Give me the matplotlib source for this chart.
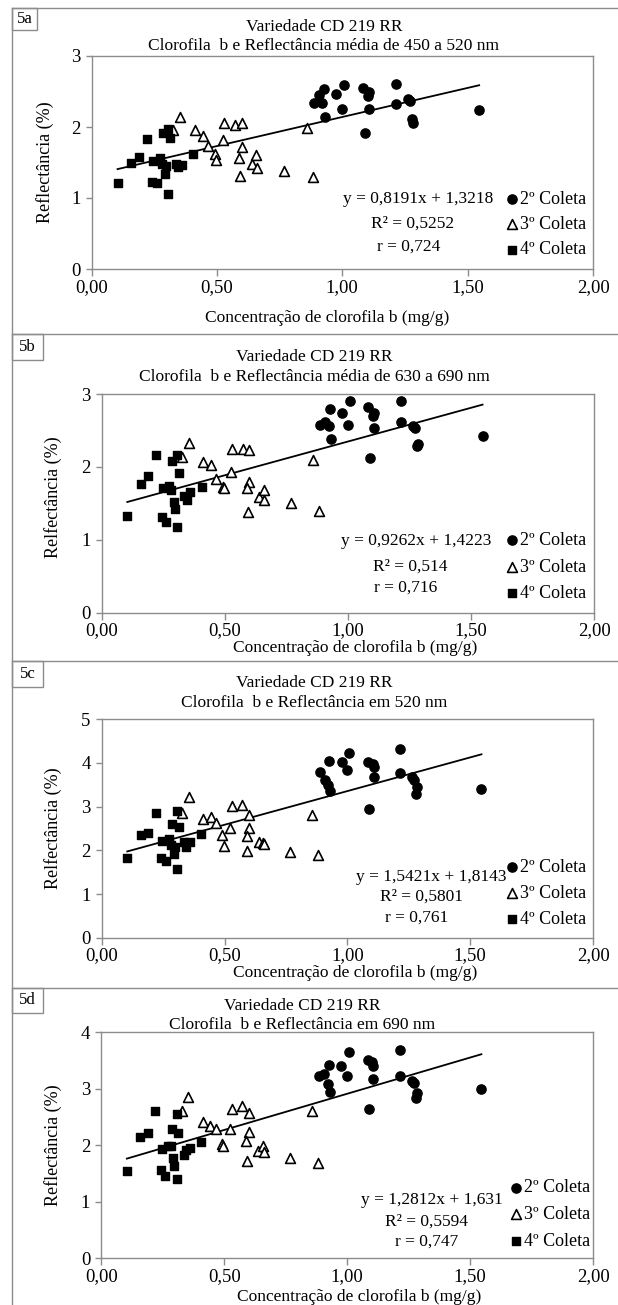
import numpy as np
import matplotlib
matplotlib.use("Agg")
import matplotlib.pyplot as plt
from matplotlib.lines import Line2D
from matplotlib.patches import Rectangle
from matplotlib.ticker import FuncFormatter

plt.rcParams['font.family'] = ['Liberation Serif', 'DejaVu Serif']

# ---------------- data ----------------
x_c2 = [0.887, 0.907, 0.921, 0.927, 0.930, 0.977, 0.999, 1.007, 1.083, 1.090,
        1.103, 1.107, 1.107, 1.216, 1.216, 1.263, 1.272, 1.279, 1.283, 1.546]
x_c3 = [0.327, 0.354, 0.413, 0.444, 0.466, 0.491, 0.496, 0.523, 0.530, 0.573,
        0.599, 0.599, 0.590, 0.593, 0.639, 0.657, 0.660, 0.768, 0.858, 0.882]
x_c4 = [0.104, 0.158, 0.189, 0.220, 0.243, 0.260, 0.247, 0.273, 0.282, 0.286,
        0.306, 0.313, 0.293, 0.306, 0.336, 0.345, 0.360, 0.406, 0.297]

y5a_c2 = [2.34, 2.45, 2.34, 2.53, 2.145, 2.46, 2.26, 2.59, 2.555, 1.91,
          2.43, 2.50, 2.25, 2.605, 2.33, 2.39, 2.36, 2.11, 2.05, 2.24]
y5a_c3 = [1.96, 2.14, 1.96, 1.88, 1.73, 1.62, 1.535, 1.82, 2.05, 2.03,
          2.055, 1.715, 1.56, 1.305, 1.48, 1.61, 1.42, 1.38, 1.98, 1.30]
y5a_c4 = [1.21, 1.50, 1.58, 1.83, 1.23, 1.21, 1.52, 1.56, 1.48, 1.92,
          1.97, 1.84, 1.34, 1.05, 1.48, 1.43, 1.47, 1.62, 1.45]

y5b_c2 = [2.57, 2.61, 2.56, 2.79, 2.38, 2.74, 2.57, 2.91, 2.82, 2.12,
          2.70, 2.74, 2.54, 2.91, 2.62, 2.56, 2.54, 2.29, 2.32, 2.42]
y5b_c3 = [2.14, 2.33, 2.07, 2.02, 1.84, 1.73, 1.71, 1.93, 2.24, 2.25,
          2.23, 1.79, 1.71, 1.385, 1.59, 1.68, 1.55, 1.51, 2.10, 1.39]
y5b_c4 = [1.33, 1.76, 1.87, 2.16, 1.31, 1.25, 1.71, 1.74, 1.68, 2.08,
          2.16, 1.91, 1.52, 1.18, 1.60, 1.54, 1.65, 1.72, 1.42]

y5c_c2 = [3.79, 3.62, 3.50, 4.05, 3.35, 4.03, 3.84, 4.22, 4.03, 2.95,
          3.98, 3.90, 3.69, 4.32, 3.78, 3.69, 3.60, 3.28, 3.44, 3.40]
y5c_c3 = [2.85, 3.21, 2.71, 2.77, 2.62, 2.35, 2.11, 2.52, 3.02, 3.04,
          2.81, 2.52, 2.33, 1.98, 2.18, 2.16, 2.15, 1.97, 2.82, 1.89]
y5c_c4 = [1.82, 2.34, 2.40, 2.85, 1.83, 1.76, 2.22, 2.26, 2.12, 2.60,
          2.90, 2.54, 1.92, 1.57, 2.18, 2.08, 2.18, 2.37, 2.08]

y5d_c2 = [3.22, 3.26, 3.08, 3.42, 2.94, 3.41, 3.23, 3.66, 3.51, 2.64,
          3.47, 3.41, 3.17, 3.69, 3.23, 3.14, 3.10, 2.84, 2.92, 2.99]
y5d_c3 = [2.60, 2.85, 2.42, 2.35, 2.29, 2.02, 1.99, 2.29, 2.65, 2.70,
          2.58, 2.23, 2.08, 1.72, 1.90, 1.99, 1.89, 1.78, 2.60, 1.68]
y5d_c4 = [1.55, 2.14, 2.22, 2.61, 1.56, 1.45, 1.94, 1.99, 1.98, 2.29,
          2.55, 2.21, 1.77, 1.40, 1.83, 1.92, 1.96, 2.05, 1.64]

panel_ids = ["5a", "5b", "5c", "5d"]
title1 = "Variedade CD 219 RR"
titles2 = ["Clorofila  b e Reflectância média de 450 a 520 nm",
           "Clorofila  b e Reflectância média de 630 a 690 nm",
           "Clorofila  b e Reflectância em 520 nm",
           "Clorofila  b e Reflectância em 690 nm"]
ylabels = ["Reflectância (%)", "Relfectância (%)", "Relfectância (%)", "Reflectância (%)"]
xlabel = "Concentração de clorofila b (mg/g)"
ymax = [3, 3, 5, 4]
slopes = [0.8191, 0.9262, 1.5421, 1.2812]
intercepts = [1.3218, 1.4223, 1.8143, 1.631]
eq_txt = ["y = 0,8191x + 1,3218", "y = 0,9262x + 1,4223",
          "y = 1,5421x + 1,8143", "y = 1,2812x + 1,631"]
r2_txt = ["R² = 0,5252", "R² = 0,514", "R² = 0,5801", "R² = 0,5594"]
r_txt = ["r = 0,724", "r = 0,716", "r = 0,761", "r = 0,747"]
legend_labels = ["2º Coleta", "3º Coleta", "4º Coleta"]
xticks = [0.0, 0.5, 1.0, 1.5, 2.0]

ys = [(y5a_c2, y5a_c3, y5a_c4), (y5b_c2, y5b_c3, y5b_c4),
      (y5c_c2, y5c_c3, y5c_c4), (y5d_c2, y5d_c3, y5d_c4)]

# ---------------- layout (pixels) ----------------
W, H = 618, 1305
fig = plt.figure(figsize=(W / 100, H / 100), dpi=100)
fig.patch.set_facecolor("white")

def fx(px):
    return px / W

def fy(py):
    return 1 - py / H

# axes boxes: left, right, top(y=max), bottom(y=0) in px
ax_px = [(91.5, 593, 56, 269), (101.7, 594.4, 394, 612.7),
         (101.7, 593, 719.3, 937.7), (101.3, 593, 1032.3, 1258.3)]
panel_top = [8.3, 334.3, 661, 987.7]
box_right = [37.4, 43, 42.6, 42.6]
box_bottom = [30, 360, 686.7, 1013.3]
title_pos = [(324, 27, 46), (314, 356.7, 376.7), (314, 683.3, 703.3), (302, 1005.7, 1025)]
ylab_pos = [(45, 162), (53, 497), (53, 828), (53, 1145)]
xlab_pos = [(327, 318), (355, 648), (355, 973), (359, 1297)]
eq_pos = [(493, 199), (491, 541), (506, 877), (503, 1200)]
r2_pos = [(413, 224), (410, 567), (421, 897), (427, 1222)]
r_pos = [(409, 247), (406, 588), (417, 918), (427, 1242)]
leg_pos = [(507.5, 190.5), (507.5, 532), (507.5, 858.5), (511.5, 1179.5)]
leg_space = [0.47, 0.53, 0.5, 0.53]

grey = "#8c8c8c"

# panel frames
for i in range(4):
    fig.add_artist(Line2D([fx(12.3), fx(618)], [fy(panel_top[i])] * 2,
                          color=grey, lw=1.0))
    fig.add_artist(Rectangle((fx(12.3), fy(box_bottom[i])),
                             fx(box_right[i]) - fx(12.3),
                             fy(panel_top[i]) - fy(box_bottom[i]),
                             transform=fig.transFigure, fill=False,
                             edgecolor=grey, lw=1.0))
    fig.text(fx((12.3 + box_right[i]) / 2), fy((panel_top[i] + box_bottom[i]) / 2),
             panel_ids[i], ha="center", va="center", fontsize=12)
fig.add_artist(Line2D([fx(12.3)] * 2, [fy(8.3), fy(1305)], color=grey, lw=1.0))

all_x = np.concatenate([x_c2, x_c3, x_c4])
xl = np.array([all_x.min(), all_x.max()])

fmt = FuncFormatter(lambda v, p: f"{v:.2f}".replace(".", ","))

for i in range(4):
    l, r, t, b = ax_px[i]
    ax = fig.add_axes([fx(l), fy(b), fx(r) - fx(l), fy(t) - fy(b)])
    for s in ax.spines.values():
        s.set_color(grey)
        s.set_linewidth(1.0)
    ax.set_xlim(0, 2)
    ax.set_ylim(0, ymax[i])
    ax.set_xticks(xticks)
    ax.set_yticks(range(ymax[i] + 1))
    ax.xaxis.set_major_formatter(fmt)
    ax.tick_params(axis="both", direction="out", color=grey, width=1.0,
                   labelsize=13.5)
    ax.tick_params(axis="x", length=5, pad=2)
    ax.tick_params(axis="y", length=4, pad=4)

    yc2, yc3, yc4 = ys[i]
    ax.plot(xl, slopes[i] * xl + intercepts[i], color="black", lw=1.3, zorder=2)
    h2 = ax.scatter(x_c2, yc2, s=44, marker="o", color="black", zorder=3)
    h3 = ax.scatter(x_c3, yc3, s=50, marker="^", facecolor="white",
                    edgecolor="black", linewidth=1.2, zorder=3)
    h4 = ax.scatter(x_c4, yc4, s=38, marker="s", color="black", zorder=3)

    ax.legend([h2, h3, h4], legend_labels, loc="upper left",
              bbox_to_anchor=(fx(leg_pos[i][0]), fy(leg_pos[i][1])),
              bbox_transform=fig.transFigure, frameon=False, fontsize=13,
              borderpad=0, borderaxespad=0, handlelength=0.5,
              handletextpad=0.2, labelspacing=leg_space[i], scatterpoints=1)

    fig.text(fx(title_pos[i][0]), fy(title_pos[i][1]), title1,
             ha="center", va="center", fontsize=12.5)
    fig.text(fx(title_pos[i][0]), fy(title_pos[i][2]), titles2[i],
             ha="center", va="center", fontsize=12.5)
    fig.text(fx(ylab_pos[i][0]), fy(ylab_pos[i][1]), ylabels[i],
             rotation=90, ha="center", va="center", fontsize=13)
    fig.text(fx(xlab_pos[i][0]), fy(xlab_pos[i][1]), xlabel,
             ha="center", va="center", fontsize=12.5)
    fig.text(fx(eq_pos[i][0]), fy(eq_pos[i][1]), eq_txt[i],
             ha="right", va="center", fontsize=12.5)
    fig.text(fx(r2_pos[i][0]), fy(r2_pos[i][1]), r2_txt[i],
             ha="center", va="center", fontsize=12.5)
    fig.text(fx(r_pos[i][0]), fy(r_pos[i][1]), r_txt[i],
             ha="center", va="center", fontsize=12.5)

fig.savefig("out.png", dpi=100, facecolor="white")
